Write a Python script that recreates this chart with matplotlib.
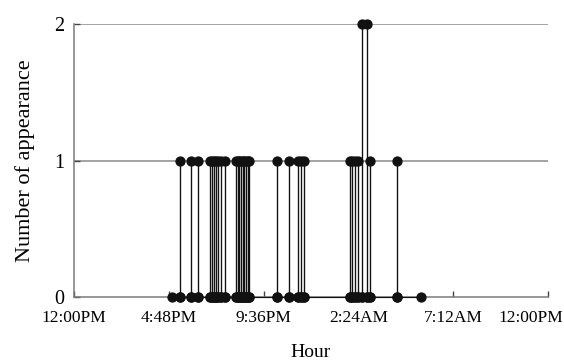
import numpy as np
import matplotlib
matplotlib.use("Agg")
import matplotlib.pyplot as plt
from matplotlib.transforms import ScaledTranslation

# hours after 12:00PM
start_hour = 4.96
end_hour = 17.57
event_hours = [5.37, 5.91, 6.29, 6.89, 6.99, 7.10, 7.20, 7.31, 7.43, 7.66,
               8.20, 8.29, 8.37, 8.46, 8.54, 8.62, 8.71, 8.79, 8.88,
               10.26, 10.90, 11.32, 11.49, 11.65,
               13.97, 14.10, 14.23, 14.38, 14.58, 14.86, 14.99, 16.33]
event_counts = [1, 1, 1, 1, 1, 1, 1, 1, 1, 1,
                1, 1, 1, 1, 1, 1, 1, 1, 1,
                1, 1, 1, 1, 1,
                1, 1, 1, 1, 2, 2, 1, 1]
tick_hours = [0, 4.8, 9.6, 14.4, 19.2, 24]
tick_labels = ["12:00PM", "4:48PM", "9:36PM", "2:24AM", "7:12AM", "12:00PM"]
y_ticks = [0, 1, 2]

# build the spike series: up and back down at each event time
ev = np.asarray(event_hours)
cnt = np.asarray(event_counts)
xs = np.concatenate([[start_hour], np.repeat(ev, 3), [end_hour]])
ys = np.concatenate([[0], np.column_stack([np.zeros_like(cnt), cnt, np.zeros_like(cnt)]).ravel(), [0]])

plt.rcParams['font.family'] = ['Liberation Serif', 'DejaVu Serif']

fig = plt.figure(figsize=(5.64, 3.62), dpi=100)
ax = fig.add_axes([74/564, 65/362, 474/564, 273/362])

for yv in [1, 2]:
    ax.axhline(yv, color='#8a8a8a', lw=1.1, zorder=1)

ax.plot(xs, ys, color='#111111', lw=0.85, marker='o', markersize=6.4,
        markerfacecolor='#111111', markeredgecolor='#111111', zorder=3,
        clip_on=False)

ax.set_xlim(0, 24)
ax.set_ylim(0, 2)
ax.set_xticks(tick_hours)
ax.set_xticklabels(tick_labels)
ax.set_yticks(y_ticks)
ax.set_yticklabels([str(v) for v in y_ticks])

for s in ['top', 'right']:
    ax.spines[s].set_visible(False)
for s in ['left', 'bottom']:
    ax.spines[s].set_color('#7a7a7a')
    ax.spines[s].set_linewidth(1.1)

ax.tick_params(axis='x', direction='in', length=4, width=1, color='#444444',
               labelsize=12.5, pad=9)
ax.tick_params(axis='y', direction='in', length=4, width=1, color='#444444',
               labelsize=14.5, pad=7)

# last label kept inside the picture, as in the reference
last = ax.get_xticklabels()[-1]
last.set_transform(last.get_transform() + ScaledTranslation(-17/100, 0, fig.dpi_scale_trans))

ax.set_xlabel('Hour', fontsize=14, labelpad=13)
ax.set_ylabel('Number of appearance', fontsize=16, labelpad=14)

fig.savefig('out.png', dpi=100)
